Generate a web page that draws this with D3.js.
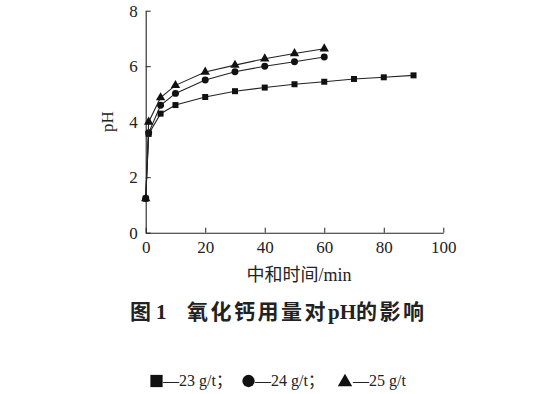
<!DOCTYPE html>
<html>
<head>
<meta charset="utf-8">
<script src="https://cdn.jsdelivr.net/npm/d3@7"></script>
<style>
  body { margin: 0; background: #fff; }
  text { font-family: "Liberation Serif", "Noto Sans CJK SC", serif; fill: #222; }
</style>
</head>
<body>
<div id="chart"></div>
<script>
// neutralisation time (min)
var times = [0, 1, 5, 10, 20, 30, 40, 50, 60, 70, 80, 90];
var ph23 = [1.23, 3.56, 4.29, 4.6, 4.89, 5.1, 5.23, 5.35, 5.44, 5.54, 5.6, 5.67];
var ph24 = [1.23, 3.6, 4.59, 5.02, 5.5, 5.8, 6.0, 6.16, 6.33];
var ph25 = [1.23, 3.99, 4.87, 5.31, 5.79, 6.04, 6.27, 6.46, 6.63];
var seriesNames = ["23 g/t", "24 g/t", "25 g/t"];
var xTicks = [0, 20, 40, 60, 80, 100];
var yTicks = [0, 2, 4, 6, 8];

var width = 541, height = 394;
var svg = d3.select("#chart").append("svg")
    .attr("width", width)
    .attr("height", height);

var x = d3.scaleLinear().domain([0, 100]).range([145.7, 443.3]);
var y = d3.scaleLinear().domain([0, 8]).range([232.7, 10.7]);

var xAxis = svg.append("g")
    .attr("transform", "translate(0," + y(0) + ")")
    .call(d3.axisBottom(x).tickValues(xTicks).tickSizeInner(-5).tickSizeOuter(0).tickPadding(8));
var yAxis = svg.append("g")
    .attr("transform", "translate(" + x(0) + ",0)")
    .call(d3.axisLeft(y).tickValues(yTicks).tickSizeInner(-5).tickSizeOuter(0).tickPadding(8));

[xAxis, yAxis].forEach(function (ax) {
    ax.select(".domain").attr("stroke", "#222").attr("stroke-width", 1.1);
    ax.selectAll(".tick line").attr("stroke", "#222");
    ax.selectAll(".tick text").style("font-size", "17px").attr("fill", "#222");
});

var series = [
    { name: seriesNames[0], values: ph23, symbol: d3.symbolSquare, size: 36 },
    { name: seriesNames[1], values: ph24, symbol: d3.symbolCircle, size: 38 },
    { name: seriesNames[2], values: ph25, symbol: d3.symbolTriangle, size: 38 }
];

var line = d3.line()
    .x(function (d, i) { return x(times[i]); })
    .y(function (d) { return y(d); });

series.forEach(function (s) {
    svg.append("path")
        .attr("d", line(s.values))
        .attr("fill", "none")
        .attr("stroke", "#222")
        .attr("stroke-width", 1.1);
    svg.selectAll(null)
        .data(s.values)
        .enter().append("path")
        .attr("d", d3.symbol().type(s.symbol).size(s.size))
        .attr("transform", function (d, i) { return "translate(" + x(times[i]) + "," + y(d) + ")"; })
        .attr("fill", "#111");
});

svg.append("text")
    .attr("transform", "translate(113," + y(4) + ") rotate(-90)")
    .attr("text-anchor", "middle")
    .style("font-size", "17px")
    .text("pH");

svg.append("text")
    .attr("x", 299).attr("y", 281)
    .attr("text-anchor", "middle")
    .style("font-size", "18px")
    .text("中和时间/min");

// caption
var cap = svg.append("text")
    .attr("y", 319)
    .style("font-size", "21px")
    .style("font-weight", "bold");
cap.append("tspan").attr("x", 130)
    .style("font-family", "'Noto Sans CJK SC', sans-serif").text("图");
cap.append("tspan").attr("x", 156)
    .style("font-family", "'Liberation Serif', serif").text("1");
cap.append("tspan").attr("x", 187)
    .style("font-family", "'Noto Sans CJK SC', sans-serif")
    .style("letter-spacing", "2.5px").text("氧化钙用量对");
cap.append("tspan")
    .style("font-family", "'Liberation Serif', serif").text("pH");
cap.append("tspan")
    .style("font-family", "'Noto Sans CJK SC', sans-serif")
    .style("letter-spacing", "2.5px").text("的影响");

// legend
var symX = [156.5, 248.5, 345];
var txtX = [163, 255, 353];
var symSize = [150, 120, 90];
series.forEach(function (s, i) {
    svg.append("path")
        .attr("d", d3.symbol().type(s.symbol).size(symSize[i]))
        .attr("transform", "translate(" + symX[i] + "," + (i === 2 ? 382 : 381) + ")")
        .attr("fill", "#111");
    svg.append("text")
        .attr("x", txtX[i]).attr("y", 386)
        .style("font-size", "16px")
        .text("—" + s.name + (i < 2 ? "；" : ""));
});
</script>
</body>
</html>
